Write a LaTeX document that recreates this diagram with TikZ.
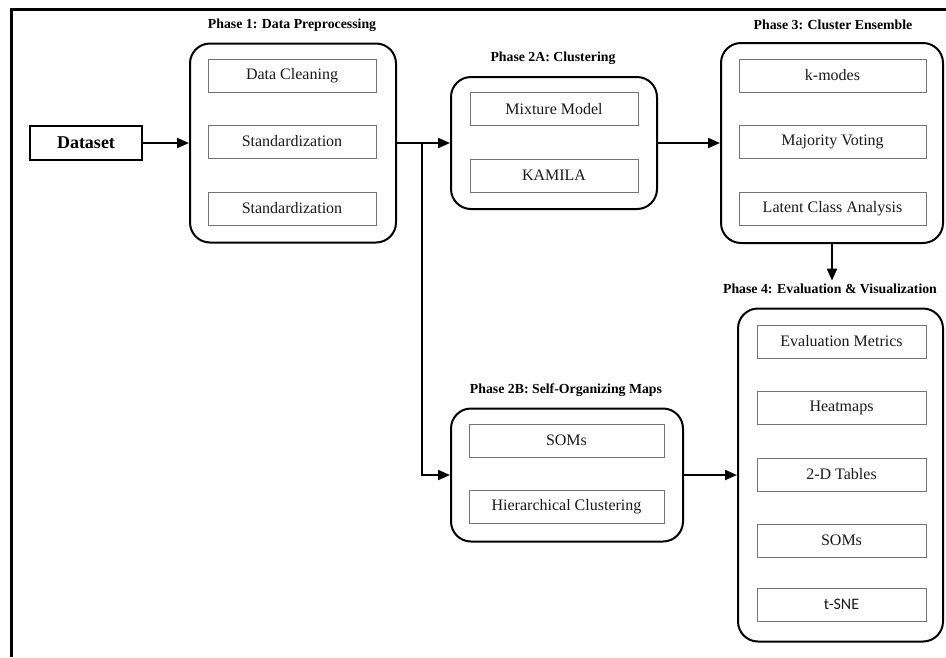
\documentclass[tikz,border=0pt]{standalone}
\usepackage{fontspec}
\setmainfont{Liberation Serif}
\newfontfamily\calibri{Carlito}
\usetikzlibrary{arrows.meta}

\tikzset{
  phase/.style={draw, line width=2pt, rounded corners=20pt},
  item/.style={draw=black!55, line width=1pt, minimum height=33pt,
    text=black!90, font=\fontsize{16}{19}\selectfont},
  title/.style={font=\bfseries\fontsize{13.8}{16}\selectfont},
  flow/.style={-{Triangle[length=12pt,width=10pt]}, line width=2pt},
}

\begin{document}
\begin{tikzpicture}[x=1pt, y=-1pt]
    \useasboundingbox (0,0) rectangle (946,657);
    \draw[line width=2.5pt] (11.5,657) -- (11.5,9.5) -- (946,9.5);

    % input
    \node[draw, line width=2.5pt, minimum width=112pt, minimum height=34pt,
          font=\bfseries\fontsize{18}{21}\selectfont] (data) at (86,143) {Dataset};

    % phase containers
    \node[phase, minimum width=206pt, minimum height=199pt] (p1)  at (293,143) {};
    \node[phase, minimum width=206pt, minimum height=132pt] (p2a) at (554,143) {};
    \node[phase, minimum width=222pt, minimum height=200pt] (p3)  at (832,143) {};
    \node[phase, minimum width=232pt, minimum height=133pt] (p2b) at (567,475) {};
    \node[phase, minimum width=205pt, minimum height=333pt] (p4)  at (840.5,475) {};

    % phase titles
    \node[title] (t1)  at (292,25)  {Phase 1: Data Preprocessing};
    \node[title] (t2a) at (553,58)  {Phase 2A: Clustering};
    \node[title] (t3)  at (833,25)  {Phase 3: Cluster Ensemble};
    \node[title] (t2b) at (566,390) {Phase 2B: Self-Organizing Maps};
    \node[title] (t4)  at (830,289) {Phase 4: Evaluation \& Visualization};

    % phase 1
    \node[item, minimum width=168pt] (clean) at (292,75.5)  {Data Cleaning};
    \node[item, minimum width=168pt] (std1)  at (292,141.5) {Standardization};
    \node[item, minimum width=168pt] (std2)  at (292,208.5) {Standardization};

    % phase 2A
    \node[item, minimum width=168pt] (mix)    at (554,109)   {Mixture Model};
    \node[item, minimum width=168pt] (kamila) at (554,175.5) {KAMILA};

    % phase 3
    \node[item, minimum width=187pt] (kmodes) at (832.5,75.5)  {k-modes};
    \node[item, minimum width=187pt] (vote)   at (832.5,141.5) {Majority Voting};
    \node[item, minimum width=187pt] (lca)    at (832.5,208.5) {Latent Class Analysis};

    % phase 2B
    \node[item, minimum width=195pt] (som)  at (566.5,440.5) {SOMs};
    \node[item, minimum width=195pt] (hier) at (566.5,506.5) {Hierarchical Clustering};

    % phase 4
    \node[item, minimum width=169pt] (metrics) at (841.5,341.5) {Evaluation Metrics};
    \node[item, minimum width=169pt] (heat)    at (841.5,407.5) {Heatmaps};
    \node[item, minimum width=169pt] (tables)  at (841.5,474.5) {2-D Tables};
    \node[item, minimum width=169pt] (som4)    at (841.5,540.5) {SOMs};
    \node[item, minimum width=169pt] (tsne)    at (841.5,604.5) {\calibri t-SNE};

    \coordinate (split) at (422,143);
    \path[flow] (data.east) edge (p1.west)
                (p1.east)   edge (p2a.west)
                (p2a.east)  edge (p3.west)
                (p2b.east)  edge (p4.west)
                (p3.south)  edge (p3.south |- t4.north);
    \draw[flow] (split) |- (p2b.west);
\end{tikzpicture}
\end{document}
